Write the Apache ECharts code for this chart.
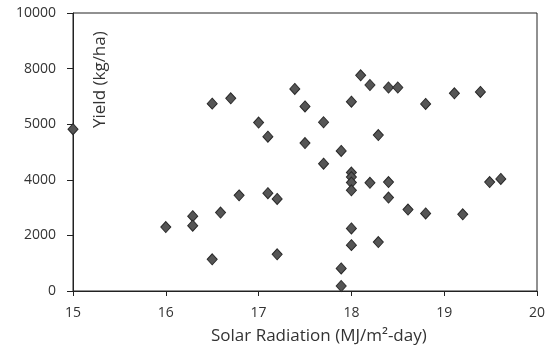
<!DOCTYPE html>
<html>
<head>
<meta charset="utf-8">
<script src="https://cdn.jsdelivr.net/npm/echarts@6/dist/echarts.min.js"></script>
<style>html,body{margin:0;padding:0;background:#fff;}#c{width:549px;height:347px;}</style>
</head>
<body>
<div id="c"></div>
<script>
// Solar radiation (MJ/m2-day)
const radiation = [15.0, 16.0, 16.29, 16.29, 16.5, 16.5, 16.59, 16.7, 16.79, 17.0, 17.1, 17.1, 17.2, 17.2,
  17.39, 17.5, 17.5, 17.7, 17.7, 17.89, 17.89, 17.89, 18.0, 18.0, 18.0, 18.0, 18.0, 18.0, 18.0,
  18.1, 18.2, 18.2, 18.29, 18.29, 18.4, 18.4, 18.4, 18.5, 18.61, 18.8, 18.8, 19.11, 19.2, 19.39, 19.49, 19.61];
// Yield (kg/ha)
const yieldVals = [5820, 2300, 2690, 2350, 6740, 1140, 2820, 6930, 3440, 6060, 5550, 3520, 3310, 1320,
  7270, 6640, 5320, 6070, 4580, 5040, 810, 180, 6810, 4260, 4100, 3900, 3620, 2250, 1650,
  7760, 7410, 3890, 5610, 1760, 7320, 3920, 3360, 7320, 2930, 6730, 2790, 7110, 2760, 7160, 3920, 4030];
const xTickLabels = ['15', '16', '17', '18', '19', '20'];
const yTickLabels = ['0', '2000', '4000', '5000', '8000', '10000'];
const xTitle = 'Solar Radiation (MJ/m²-day)';
const yTitle = 'Yield (kg/ha)';

const points = radiation.map((x, i) => [x, yieldVals[i]]);
const chart = echarts.init(document.getElementById('c'));
const font = 'Open Sans';
chart.setOption({
  animation: false,
  grid: { left: 73, right: 12, top: 13, bottom: 56, show: true, borderColor: '#222', borderWidth: 1, backgroundColor: 'transparent' },
  xAxis: {
    type: 'value', min: 15, max: 20, interval: 1,
    axisLine: { show: true, lineStyle: { color: '#222', width: 1 } },
    axisTick: { show: true, length: 5, lineStyle: { color: '#222' } },
    splitLine: { show: false },
    axisLabel: { margin: 15, fontFamily: font, fontSize: 14, color: '#333',
      formatter: v => xTickLabels[Math.round(v - 15)] }
  },
  yAxis: {
    type: 'value', min: 0, max: 10000, interval: 2000,
    axisLine: { show: true, lineStyle: { color: '#222', width: 1 } },
    axisTick: { show: true, length: 6, lineStyle: { color: '#222' } },
    splitLine: { show: false },
    axisLabel: { margin: 17, fontFamily: font, fontSize: 14, color: '#333',
      formatter: v => yTickLabels[Math.round(v / 2000)] }
  },
  graphic: [
    { type: 'text', left: 211, top: 328, style: { text: xTitle, fontFamily: font, fontSize: 17, fill: '#333' } },
    { type: 'text', x: 92, y: 128, rotation: Math.PI / 2, style: { text: yTitle, fontFamily: font, fontSize: 17, fill: '#333' } }
  ],
  series: [{
    type: 'scatter', data: points, symbol: 'diamond', symbolSize: [10, 11],
    itemStyle: { color: '#555', borderColor: '#2a2a2a', borderWidth: 1, opacity: 1 }
  }]
});
</script>
</body>
</html>
